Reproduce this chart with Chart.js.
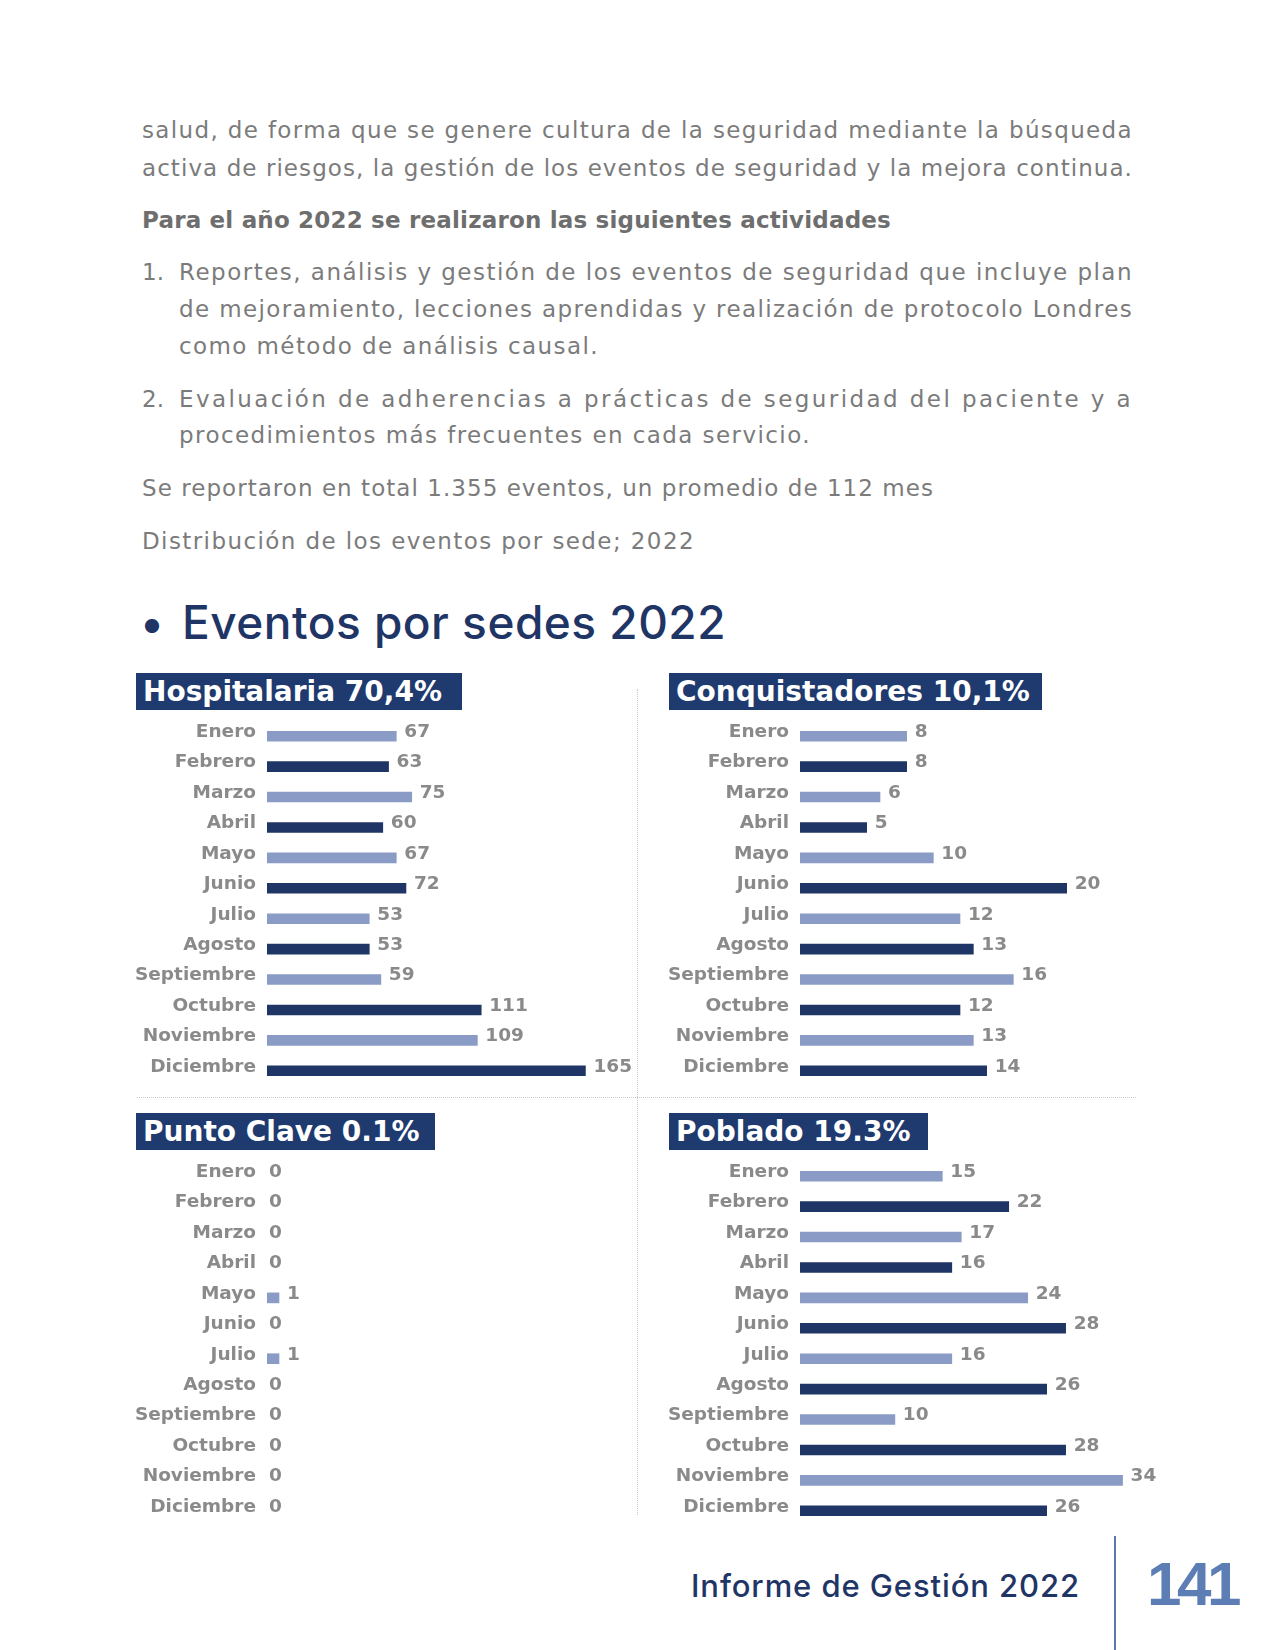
<!DOCTYPE html>
<html>
<head>
<meta charset="utf-8">
<script src="https://cdn.jsdelivr.net/npm/chart.js@4.4.0/dist/chart.umd.min.js"></script>
<style>
html, body { margin: 0; padding: 0; background: #fff; }
body { width: 1275px; height: 1650px; position: relative; overflow: hidden; font-family: "DejaVu Sans", sans-serif; }
.t { position: absolute; white-space: nowrap; color: #7b7b7b; font-size: 23px; line-height: 37px; }
.b { font-weight: bold; color: #6e6e6e; }
.m { font-family: Inter, "DejaVu Sans", sans-serif; font-weight: 500; color: #1f3566; }
.hdr { position: absolute; background: #1f3a6e; color: #fff; font-weight: bold; font-size: 28px; line-height: 37px; height: 37px; padding-left: 7px; box-sizing: border-box; white-space: nowrap; }
.cv { position: absolute; }
</style>
</head>
<body>

<!-- texto de la pagina -->
<div class="t" style="left:142px;top:112px" data-w="991">salud, de forma que se genere cultura de la seguridad mediante la búsqueda</div>
<div class="t" style="left:142px;top:150px" data-w="991">activa de riesgos, la gestión de los eventos de seguridad y la mejora continua.</div>
<div class="t b" style="left:142px;top:202px" data-w="749">Para el año 2022 se realizaron las siguientes actividades</div>
<div class="t" style="left:142px;top:254px">1.</div>
<div class="t" style="left:179px;top:254px" data-w="954">Reportes, análisis y gestión de los eventos de seguridad que incluye plan</div>
<div class="t" style="left:179px;top:291px" data-w="954">de mejoramiento, lecciones aprendidas y realización de protocolo Londres</div>
<div class="t" style="left:179px;top:328px" data-w="420">como método de análisis causal.</div>
<div class="t" style="left:142px;top:381px">2.</div>
<div class="t" style="left:179px;top:381px" data-w="954">Evaluación de adherencias a prácticas de seguridad del paciente y a</div>
<div class="t" style="left:179px;top:417px" data-w="632">procedimientos más frecuentes en cada servicio.</div>
<div class="t" style="left:142px;top:470px" data-w="792">Se reportaron en total 1.355 eventos, un promedio de 112 mes</div>
<div class="t" style="left:142px;top:523px" data-w="553">Distribución de los eventos por sede; 2022</div>

<div class="t m" style="left:140px;top:600px;font-size:45px;line-height:45px">•</div>
<div class="t m" style="left:182px;top:600px;font-size:46px;line-height:45px" data-w="544">Eventos por sedes 2022</div>

<!-- divisores -->
<div style="position:absolute;left:637px;top:689px;height:826px;border-left:1px dotted #c9c9c9"></div>
<div style="position:absolute;left:137px;top:1097px;width:999px;border-top:1px dotted #c9c9c9"></div>

<!-- encabezados -->
<div class="hdr" id="h0" style="left:136px;top:673px;width:326px"></div>
<div class="hdr" id="h1" style="left:669px;top:673px;width:373px"></div>
<div class="hdr" id="h2" style="left:136px;top:1113px;width:299px"></div>
<div class="hdr" id="h3" style="left:669px;top:1113px;width:259px"></div>

<canvas class="cv" id="c0" width="522" height="371" style="left:125px;top:715px"></canvas>
<canvas class="cv" id="c1" width="533" height="371" style="left:657px;top:715px"></canvas>
<canvas class="cv" id="c2" width="522" height="371" style="left:125px;top:1155px"></canvas>
<canvas class="cv" id="c3" width="563" height="371" style="left:657px;top:1155px"></canvas>

<!-- pie de pagina -->
<div class="t m" style="left:691px;top:1570px;font-size:31px;line-height:31px" data-w="389">Informe de Gestión 2022</div>
<div style="position:absolute;left:1114px;top:1536px;width:2px;height:114px;background:#5b77b1"></div>
<div class="t" style="left:1147px;top:1553px;font-family:'Liberation Sans',sans-serif;font-weight:bold;font-size:62px;line-height:62px;color:#5d7db5" data-w="90">141</div>

<script>
const meses = ['Enero', 'Febrero', 'Marzo', 'Abril', 'Mayo', 'Junio', 'Julio', 'Agosto', 'Septiembre', 'Octubre', 'Noviembre', 'Diciembre']
const hospitalaria = [67, 63, 75, 60, 67, 72, 53, 53, 59, 111, 109, 165]
const conquistadores = [8, 8, 6, 5, 10, 20, 12, 13, 16, 12, 13, 14]
const puntoClave = [0, 0, 0, 0, 1, 0, 1, 0, 0, 0, 0, 0]
const poblado = [15, 22, 17, 16, 24, 28, 16, 26, 10, 28, 34, 26]
const titulos = ['Hospitalaria 70,4%', 'Conquistadores 10,1%', 'Punto Clave 0.1%', 'Poblado 19.3%']

const light = '#8a9cc6'
const dark = '#1f3566'
const grey = '#8a8a8a'

// ***** ajustar el ancho de los textos *****
document.querySelectorAll('[data-w]').forEach(el => {
  const w = +el.dataset.w
  el.style.letterSpacing = '0px'
  const nat = el.getBoundingClientRect().width
  el.style.letterSpacing = ((w - nat) / el.textContent.length) + 'px'
})

titulos.forEach((t, i) => { document.getElementById('h' + i).textContent = t })

// etiquetas de valor al final de cada barra
const valueLabels = {
  id: 'valueLabels',
  afterDatasetsDraw(chart) {
    const ctx = chart.ctx
    const values = chart.data.datasets[0].data
    ctx.save()
    ctx.font = 'bold 18.5px "DejaVu Sans"'
    ctx.fillStyle = grey
    ctx.textAlign = 'left'
    ctx.textBaseline = 'middle'
    chart.getDatasetMeta(0).data.forEach((bar, i) => {
      const v = values[i]
      ctx.fillText(String(v), bar.x + (v === 0 ? 2 : 8), bar.y - 4)
    })
    ctx.restore()
  }
}

// ***** graficas *****
const drawPanel = (id, values, max, axisW) => {
  new Chart(document.getElementById(id), {
    type: 'bar',
    data: {
      labels: meses,
      datasets: [{
        data: values,
        backgroundColor: c => c.raw === 0 ? 'rgba(0,0,0,0)' : (c.dataIndex % 2 ? dark : light),
        barThickness: 10
      }]
    },
    options: {
      indexAxis: 'y',
      responsive: false,
      animation: false,
      devicePixelRatio: 1,
      layout: { padding: { top: 6, right: 50, bottom: 0, left: 0 } },
      plugins: { legend: { display: false }, tooltip: { enabled: false } },
      scales: {
        x: { display: false, min: 0, max: max },
        y: {
          grid: { display: false, drawTicks: false },
          border: { display: false },
          afterFit: s => {
            s.width = axisW
            s.paddingTop = 0
            s.paddingBottom = 0
          },
          ticks: {
            padding: 11,
            color: grey,
            font: { family: '"DejaVu Sans"', size: 18.5, weight: 'bold', lineHeight: '8px' },
            callback: function (v) { return [this.getLabelForValue(v), ''] }
          }
        }
      }
    },
    plugins: [valueLabels]
  })
}

drawPanel('c0', hospitalaria, 171, 142)
drawPanel('c1', conquistadores, 25.5, 143)
drawPanel('c2', puntoClave, 27.5, 142)
drawPanel('c3', poblado, 39, 143)
</script>
</body>
</html>
